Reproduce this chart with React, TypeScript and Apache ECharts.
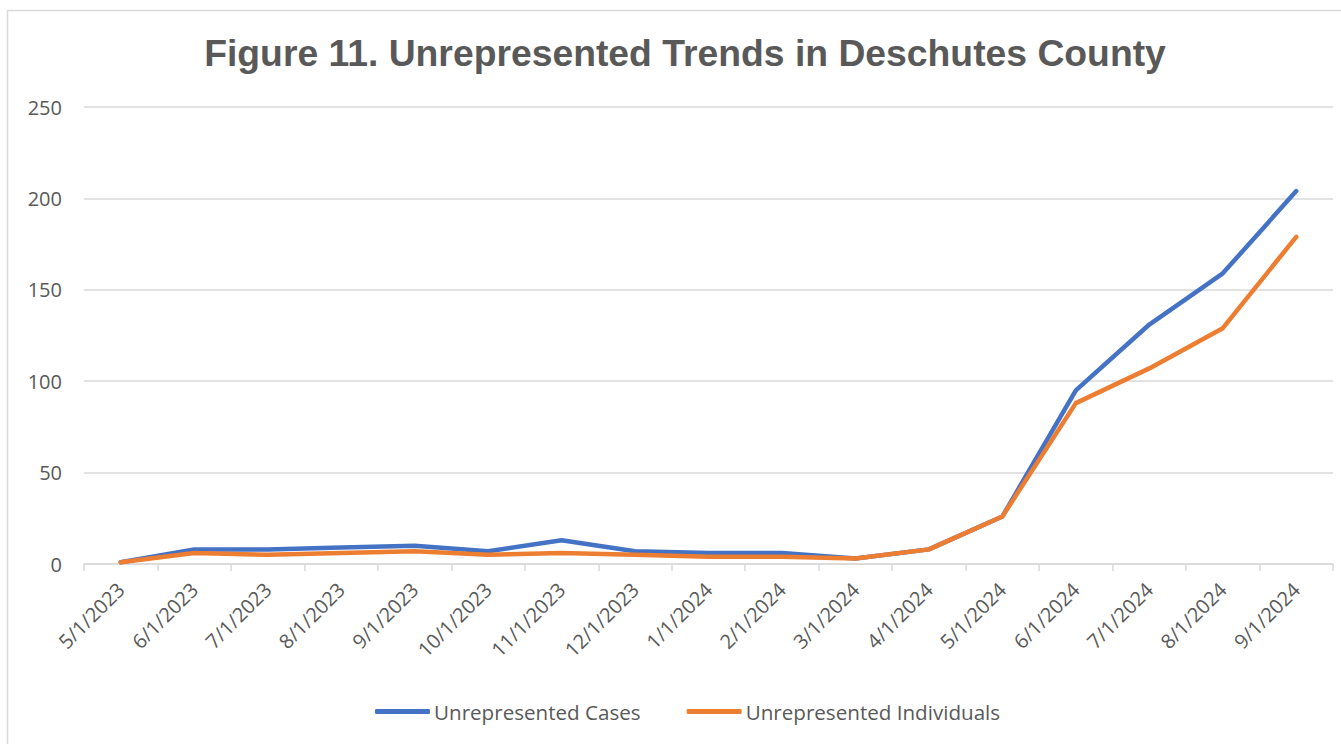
import React, { useEffect, useRef } from "react";
import * as echarts from "echarts";

const categories = [
  "5/1/2023", "6/1/2023", "7/1/2023", "8/1/2023", "9/1/2023", "10/1/2023",
  "11/1/2023", "12/1/2023", "1/1/2024", "2/1/2024", "3/1/2024", "4/1/2024",
  "5/1/2024", "6/1/2024", "7/1/2024", "8/1/2024", "9/1/2024",
];
const unrepresentedCases = [1, 8, 8, 9, 10, 7, 13, 7, 6, 6, 3, 8, 26, 95, 131, 159, 204];
const unrepresentedIndividuals = [1, 6, 5, 6, 7, 5, 6, 5, 4, 4, 3, 8, 26, 88, 107, 129, 179];
const seriesNames = ["Unrepresented Cases", "Unrepresented Individuals"];
const titleText = "Figure 11. Unrepresented Trends in Deschutes County";

export default function App() {
  const ref = useRef<HTMLDivElement>(null);
  useEffect(() => {
    if (!ref.current) return;
    const chart = echarts.init(ref.current, null, { renderer: "svg" });
    const textColor = "#595959";
    const font = "'Open Sans', 'Noto Sans', sans-serif";
    chart.setOption({
      animation: false,
      backgroundColor: "#ffffff",
      graphic: [
        {
          type: "rect",
          shape: { x: 7.5, y: 10.5, width: 1400, height: 800 },
          style: { fill: "none", stroke: "#d9d9d9", lineWidth: 1.5 },
          silent: true,
        },
        {
          type: "text",
          x: 685,
          y: 53,
          style: {
            text: titleText,
            fill: textColor,
            font: "bold 37.3px 'Liberation Sans', Arial, sans-serif",
            textAlign: "center",
            textVerticalAlign: "middle",
          },
        },
      ],
      grid: { left: 84, right: 8, top: 107, bottom: 180, containLabel: false },
      legend: {
        data: seriesNames,
        bottom: 17,
        left: 370,
        itemWidth: 55,
        itemHeight: 5,
        itemGap: 46,
        icon: "roundRect",
        textStyle: { color: textColor, fontSize: 20.6, fontFamily: font, padding: [0, 0, 0, -1] },
      },
      xAxis: {
        type: "category",
        data: categories,
        boundaryGap: true,
        axisLine: { lineStyle: { color: "#d9d9d9", width: 1.5 } },
        axisTick: { show: true, length: 7, lineStyle: { color: "#d9d9d9", width: 1.5 } },
        axisLabel: {
          rotate: 45,
          interval: 0,
          margin: 22,
          color: textColor,
          fontSize: 20,
          fontFamily: font,
        },
      },
      yAxis: {
        type: "value",
        min: 0,
        max: 250,
        interval: 50,
        axisLine: { show: false },
        axisTick: { show: false },
        axisLabel: { margin: 22, color: textColor, fontSize: 20, fontFamily: font },
        splitLine: { lineStyle: { color: "#d9d9d9", width: 1.5 } },
      },
      series: [
        {
          name: seriesNames[0],
          type: "line",
          data: unrepresentedCases,
          symbol: "none",
          color: "#4472c4",
          lineStyle: { width: 4.5, color: "#4472c4", cap: "round", join: "round" },
        },
        {
          name: seriesNames[1],
          type: "line",
          data: unrepresentedIndividuals,
          symbol: "none",
          color: "#ed7d31",
          lineStyle: { width: 4.5, color: "#ed7d31", cap: "round", join: "round" },
        },
      ],
    });
    return () => chart.dispose();
  }, []);
  return (
    <div
      ref={ref}
      style={{ position: "absolute", left: 0, top: 0, width: 1341, height: 744 }}
    />
  );
}
